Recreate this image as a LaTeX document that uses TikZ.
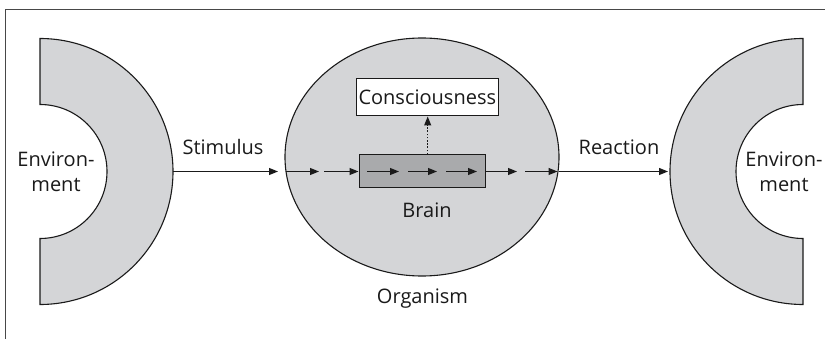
\documentclass[tikz,border=0pt]{standalone}
\usepackage{fontspec}
\setmainfont{Open Sans}
\usetikzlibrary{shapes.geometric,arrows.meta}
\definecolor{lightg}{HTML}{D4D5D7}
\definecolor{brainfill}{HTML}{A9AAAC}
\definecolor{ink}{HTML}{1A1A1A}
\begin{document}
\begin{tikzpicture}[x=1pt,y=-1pt,
  ln/.style={draw=ink,line width=1.1pt},
  arr/.style={ln,-{Triangle[length=9pt,width=7pt]}},
  lbl/.style={text=ink,font=\fontsize{20}{25}\selectfont,inner sep=0pt,align=center},
  shapefill/.style={fill=lightg,draw=ink,line width=1.1pt}]
\useasboundingbox (0,0) rectangle (825,339);
% frame
\draw[draw=ink!80,line width=1pt] (825,10) -- (5,10) -- (5,339);
% left environment
\path[shapefill] (40,38.5) arc[start angle=-90,end angle=90,radius=133] -- (40,238.5)
  arc[start angle=90,end angle=-90,radius=67] -- cycle;
% right environment
\path[shapefill] (803,38.5) arc[start angle=-90,end angle=-270,radius=133] -- (803,238.5)
  arc[start angle=90,end angle=270,radius=67] -- cycle;
% organism
\node[ellipse,shapefill,minimum width=274pt,minimum height=238pt,inner sep=0pt] (org) at (422,157) {};
% brain
\node[draw=ink,fill=brainfill,line width=1.1pt,minimum width=126pt,minimum height=33pt,inner sep=0pt] (brain) at (422.3,171) {};
% consciousness
\node[draw=ink,fill=white,line width=1.1pt,minimum width=142pt,minimum height=37.5pt,inner sep=0pt] (cons) at (427.3,97.2) {};
\node[lbl] (constext) at (cons.center) {Consciousness};
% labels
\node[lbl] (envl) at (56,172) {Environ-\\ment};
\node[lbl] (envr) at (784,172) {Environ-\\ment};
\node[lbl] (stim) at (223,147) {Stimulus};
\node[lbl] (react) at (619,147) {Reaction};
\node[lbl] (brainlbl) at (427,210) {Brain};
\node[lbl] (orglbl) at (422.5,299) {Organism};
% arrow coordinates
\coordinate (p0) at (173,171.5);
\coordinate (p1) at (278,171.5);
\coordinate (p2) at (286,171.5);
\coordinate (p3) at (319,171.5);
\coordinate (p4) at (324,171.5);
\coordinate (p5) at (358.5,171.5);
\coordinate (q0) at (367,171.5);
\coordinate (q1) at (399,171.5);
\coordinate (q2) at (408,171.5);
\coordinate (q3) at (437,171.5);
\coordinate (q4) at (446,171.5);
\coordinate (q5) at (477,171.5);
\coordinate (r0) at (486,171.5);
\coordinate (r1) at (517,171.5);
\coordinate (r2) at (525,171.5);
\coordinate (r3) at (557.5,171.5);
\coordinate (r4) at (559,171.5);
\coordinate (r5) at (668,171.5);
\draw[arr] (p0) -- (p1);
\draw[arr] (p2) -- (p3);
\draw[arr] (p4) -- (p5);
\draw[arr] (q0) -- (q1);
\draw[arr] (q2) -- (q3);
\draw[arr] (q4) -- (q5);
\draw[arr] (r0) -- (r1);
\draw[arr] (r2) -- (r3);
\draw[arr] (r4) -- (r5);
% dotted to consciousness
\coordinate (bt) at (427.7,154.5);
\draw[arr,dash pattern=on 1.6pt off 1.6pt] (bt) -- (cons.south -| bt);
\end{tikzpicture}
\end{document}
